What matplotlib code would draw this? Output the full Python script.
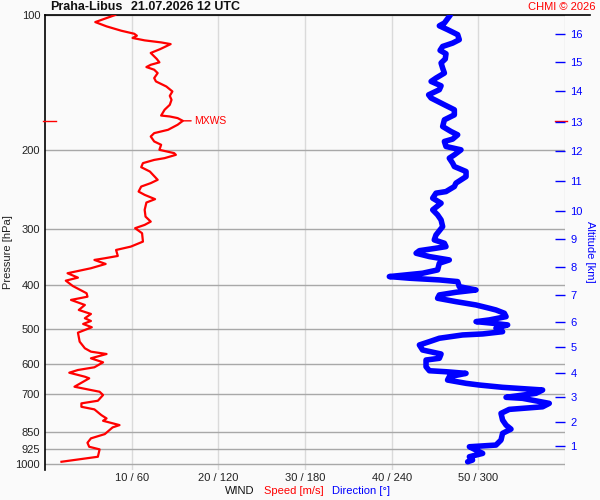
import numpy as np
import matplotlib.pyplot as plt
from matplotlib import transforms
from matplotlib.ticker import NullLocator

plt.rcParams['font.family'] = ['Liberation Sans', 'DejaVu Sans']

# wind speed profile (pressure hPa, speed m/s)
speed_p = [100.0, 103.7, 106.0, 108.4, 110.1, 111.2, 112.5, 113.9, 115.1, 116.1,
           119.1, 121.5, 125.3, 127.5, 129.1, 130.6, 132.4, 134.7, 138.2, 140.6,
           144.3, 148.0, 151.4, 154.5, 158.5, 162.6, 167.5, 168.3, 169.7, 172.1,
           175.6, 180.2, 183.3, 186.5, 191.3, 194.6, 199.7, 203.1, 204.9, 208.4,
           210.3, 213.8, 218.3, 223.2, 232.9, 236.9, 241.1, 247.4, 251.6, 257.2,
           261.7, 271.7, 281.3, 288.6, 293.5, 298.5, 306.3, 319.8, 328.1, 333.8,
           344.2, 348.3, 351.3, 358.6, 366.6, 376.1, 384.7, 390.7, 401.5, 416.8,
           424.2, 431.3, 442.6, 454.1, 463.5, 473.8, 480.5, 487.9, 496.2, 510.2,
           534.3, 552.7, 562.4, 569.2, 581.9, 594.0, 609.3, 617.9, 626.5, 639.5,
           644.8, 673.2, 682.3, 690.8, 702.5, 723.4, 733.2, 746.2, 756.2, 778.7,
           792.0, 801.8, 819.7, 829.4, 858.4, 877.4, 897.4, 916.0, 928.4, 964.2,
           989.3]
speed_ms = [8.1, 5.8, 7.1, 8.8, 10.3, 10.6, 10.1, 11.5, 13.4, 14.5,
            13.3, 12.2, 12.9, 13.2, 12.2, 11.7, 12.6, 13.0, 12.6, 12.8,
            14.0, 14.7, 14.4, 14.6, 14.4, 13.8, 13.4, 14.4, 15.3, 15.9,
            15.3, 14.2, 12.6, 12.2, 12.6, 13.4, 13.2, 14.9, 15.1, 13.8,
            12.6, 11.3, 11.1, 12.1, 13.0, 12.2, 11.1, 10.8, 11.5, 12.7,
            11.7, 11.5, 11.6, 12.2, 11.5, 10.4, 11.2, 11.3, 9.9, 8.2,
            8.4, 6.9, 5.7, 7.0, 5.3, 2.6, 3.8, 2.4, 3.2, 4.8,
            4.9, 3.0, 4.6, 3.9, 5.3, 4.6, 5.3, 4.4, 5.4, 3.8,
            4.0, 4.6, 5.3, 7.1, 5.3, 6.7, 5.7, 3.8, 2.8, 4.6,
            5.1, 3.4, 4.9, 6.3, 6.7, 6.1, 4.2, 4.2, 5.7, 6.5,
            7.1, 6.7, 8.6, 7.8, 6.9, 5.3, 4.9, 5.1, 6.3, 6.1,
            1.9]

# wind direction profile (pressure hPa, direction deg)
dir_p = [100.0, 104.2, 105.7, 107.8, 110.6, 113.5, 115.5, 117.5, 119.9, 122.0,
         125.3, 127.9, 131.3, 134.7, 138.2, 140.6, 143.8, 146.7, 150.6, 153.1,
         158.5, 162.6, 166.9, 171.2, 177.2, 181.8, 184.9, 189.0, 191.3, 196.3,
         199.7, 204.9, 208.4, 213.8, 217.6, 223.2, 229.1, 236.9, 241.1, 247.4,
         249.4, 255.9, 262.6, 271.7, 278.8, 286.1, 296.1, 309.0, 317.0, 322.5,
         328.1, 330.8, 335.0, 339.4, 345.3, 351.3, 357.3, 369.8, 376.1, 382.6,
         385.8, 389.2, 392.6, 402.9, 409.8, 414.7, 420.4, 427.6, 435.1, 442.6,
         450.1, 454.1, 461.8, 469.9, 477.9, 482.1, 486.1, 490.3, 498.6, 507.6,
         513.5, 516.2, 525.0, 534.3, 543.4, 557.6, 569.2, 581.9, 587.0, 607.5,
         620.2, 623.4, 628.6, 639.5, 650.5, 661.6, 667.4, 675.3, 684.6, 696.4,
         710.8, 714.5, 733.2, 746.2, 756.2, 771.8, 798.7, 819.7, 836.7, 855.0,
         885.0, 908.1, 916.0, 931.7, 947.7, 964.2, 980.6, 989.3]
dir_deg = [280.6, 276.5, 273.0, 278.7, 285.7, 286.8, 282.2, 275.3, 273.5, 277.6,
           277.1, 274.2, 275.3, 276.5, 270.7, 267.3, 274.2, 273.0, 265.6, 267.3,
           276.5, 283.4, 283.4, 276.5, 275.3, 281.1, 285.7, 282.2, 276.5, 277.6,
           288.0, 283.4, 279.9, 282.2, 283.4, 291.5, 291.5, 284.5, 283.4, 277.6,
           270.7, 268.4, 274.2, 268.4, 271.8, 274.2, 275.3, 270.7, 269.5, 276.5,
           277.6, 270.7, 259.2, 256.9, 266.1, 279.9, 273.0, 271.8, 261.4, 238.4,
           252.2, 273.0, 285.7, 286.8, 298.4, 284.5, 273.0, 271.8, 284.5, 298.4,
           307.6, 312.2, 318.0, 319.2, 307.6, 298.4, 309.9, 320.3, 312.2, 316.8,
           303.0, 289.1, 273.0, 266.1, 259.2, 261.4, 274.2, 273.0, 263.8, 263.8,
           266.1, 277.6, 291.5, 279.9, 278.7, 291.5, 300.7, 316.8, 344.5, 339.9,
           319.2, 330.6, 349.1, 344.5, 321.4, 315.7, 316.8, 319.2, 322.6, 316.8,
           315.7, 312.2, 293.8, 298.4, 303.0, 293.8, 296.0, 292.6]

pressure_ticks = [100, 200, 300, 400, 500, 600, 700, 850, 925, 1000]
speed_ticks = [10, 20, 30, 40, 50, 60]
wind_labels = ['10 / 60', '20 / 120', '30 / 180', '40 / 240', '50 / 300', '']

# altitude scale: pressure at each km level
alt_km = list(range(1, 17))
alt_pressure = [914.1, 808.4, 710.8, 626.5, 549.8, 482.3, 421.1, 364.8,
                315.8, 272.7, 233.8, 200.4, 172.7, 148.0, 127.3, 110.1]

bg = '#fafafa'
fig = plt.figure(figsize=(6, 5), dpi=100, facecolor=bg)
ax = fig.add_axes([45 / 600, 30 / 500, 520 / 600, 455 / 500])
ax.set_facecolor(bg)
ax.set_yscale('log')
ax.set_ylim(1032, 100)
ax.set_xlim(0, 60)

ax.set_yticks(pressure_ticks)
ax.set_yticklabels([str(p) for p in pressure_ticks])
ax.yaxis.set_minor_locator(NullLocator())
ax.tick_params(axis='y', length=0, pad=3.5, labelsize=8, labelcolor='#222222')
ax.set_xticks(speed_ticks)
ax.set_xticklabels(wind_labels)
ax.tick_params(axis='x', length=0, pad=2.5, labelsize=8, labelcolor='#222222')
ax.yaxis.grid(True, color='#a8a8a8', lw=1.0)
ax.xaxis.grid(True, color='#dadada', lw=1.0)
ax.set_axisbelow(True)

for side in ['top', 'right', 'bottom']:
    ax.spines[side].set_visible(False)
ax.spines['left'].set_color('black')
ax.spines['left'].set_linewidth(1.2)
ax.plot([0, 1.048], [1, 1], transform=ax.transAxes, color='black', lw=1.2,
        clip_on=False)

# speed
ax.plot(speed_ms, speed_p, color='red', lw=1.6, zorder=3)

# max wind marker
i = int(np.argmax(speed_ms))
pmx = speed_p[i]
ax.annotate('MXWS', xy=(speed_ms[i], pmx), xytext=(8, 0),
            textcoords='offset points', color='red', fontsize=7.5, va='center',
            arrowprops=dict(arrowstyle='-', color='red', lw=1,
                            shrinkA=0, shrinkB=0))
trans = transforms.blended_transform_factory(ax.transAxes, ax.transData)
ax.plot([-0.004, 0.021], [pmx, pmx], transform=trans, color='red', lw=1,
        clip_on=False, zorder=5)
ax.plot([0.981, 1.004], [pmx, pmx], transform=trans, color='red', lw=1,
        clip_on=False, zorder=5)

# direction on its own 0-360 scale
axd = ax.twiny()
axd.set_xlim(0, 360)
axd.set_xticks([])
for s in axd.spines.values():
    s.set_visible(False)
axd.plot(dir_deg, dir_p, color='blue', lw=4.0, solid_capstyle='round',
         solid_joinstyle='round')

# altitude axis
axr = ax.twinx()
axr.set_yscale('log')
axr.set_ylim(ax.get_ylim())
axr.set_yticks(alt_pressure)
axr.set_yticklabels([str(k) for k in alt_km])
axr.yaxis.set_minor_locator(NullLocator())
axr.tick_params(axis='y', direction='in', length=7, width=1, color='blue',
                labelcolor='blue', pad=4, labelsize=8)
for s in axr.spines.values():
    s.set_visible(False)

fig.text(8 / 600, 1 - 252 / 500, 'Pressure [hPa]', rotation=90,
         ha='center', va='center', fontsize=8, color='#222222')
fig.text(590 / 600, 1 - 252 / 500, 'Altitude [km]', rotation=270,
         ha='center', va='center', fontsize=8, color='blue')

fig.text(50 / 600, 1 - 7.5 / 500, 'Praha-Libus', fontsize=9, weight='bold',
         va='center', color='#111111')
fig.text(131 / 600, 1 - 7.5 / 500, '21.07.2026 12 UTC', fontsize=9,
         weight='bold', va='center', color='#111111')
fig.text(595 / 600, 1 - 6.5 / 500, 'CHMI © 2026', fontsize=8, color='red',
         ha='right', va='center')

fig.text(225 / 600, 1 - 491 / 500, 'WIND', fontsize=8, va='center',
         color='#111111')
fig.text(264 / 600, 1 - 491 / 500, 'Speed [m/s]', fontsize=8, va='center',
         color='red')
fig.text(332 / 600, 1 - 491 / 500, 'Direction [°]', fontsize=8, va='center',
         color='blue')

fig.savefig('out.png', dpi=100, facecolor=bg)
